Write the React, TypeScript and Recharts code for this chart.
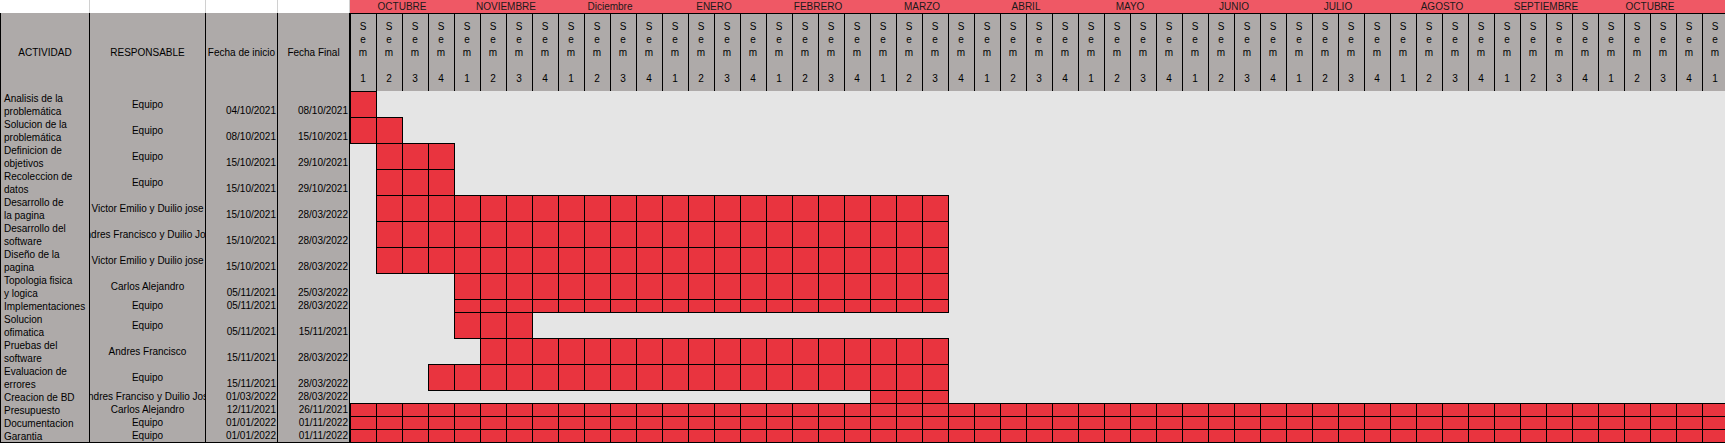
import React from 'react';
import { ComposedChart, XAxis, YAxis, ReferenceArea, Scatter } from 'recharts';

// month band over the week columns
const months = [
  'OCTUBRE', 'NOVIEMBRE', 'Diciembre', 'ENERO', 'FEBRERO', 'MARZO', 'ABRIL',
  'MAYO', 'JUNIO', 'JULIO', 'AGOSTO', 'SEPTIEMBRE', 'OCTUBRE',
];

// "Sem n" header of every week column
const weekNumbers = [
  1, 2, 3, 4, 1, 2, 3, 4, 1, 2, 3, 4, 1, 2, 3, 4, 1, 2, 3, 4, 1, 2, 3, 4,
  1, 2, 3, 4, 1, 2, 3, 4, 1, 2, 3, 4, 1, 2, 3, 4, 1, 2, 3, 4, 1, 2, 3, 4,
  1, 2, 3, 4, 1,
];

const tableHeaders = ['ACTIVIDAD', 'RESPONSABLE', 'Fecha de inicio', 'Fecha Final'];

const activities = [
  'Analisis de la\nproblemática',
  'Solucion de la\nproblemática',
  'Definicion de\nobjetivos',
  'Recoleccion de\ndatos',
  'Desarrollo de\nla pagina',
  'Desarrollo del\nsoftware',
  'Diseño de la\npagina',
  'Topologia fisica\ny logica',
  'Implementaciones',
  'Solucion\nofimatica',
  'Pruebas del\nsoftware',
  'Evaluacion de\nerrores',
  'Creacion de BD',
  'Presupuesto',
  'Documentacion',
  'Garantia',
];

const responsables = [
  'Equipo', 'Equipo', 'Equipo', 'Equipo',
  'Victor Emilio y Duilio jose',
  'Andres Francisco y Duilio Jose',
  'Victor Emilio y Duilio jose',
  'Carlos Alejandro',
  'Equipo', 'Equipo',
  'Andres Francisco',
  'Equipo',
  'Andres Franciso y Duilio Jose',
  'Carlos Alejandro',
  'Equipo', 'Equipo',
];

const fechaInicio = [
  '04/10/2021', '08/10/2021', '15/10/2021', '15/10/2021', '15/10/2021', '15/10/2021',
  '15/10/2021', '05/11/2021', '05/11/2021', '05/11/2021', '15/11/2021', '15/11/2021',
  '01/03/2022', '12/11/2021', '01/01/2022', '01/01/2022',
];

const fechaFinal = [
  '08/10/2021', '15/10/2021', '29/10/2021', '29/10/2021', '28/03/2022', '28/03/2022',
  '28/03/2022', '25/03/2022', '28/03/2022', '15/11/2021', '28/03/2022', '28/03/2022',
  '28/03/2022', '26/11/2021', '01/11/2022', '01/11/2022',
];

// first and last shaded week column (0 = Oct sem 1)
const startWeek = [0, 0, 1, 1, 1, 1, 1, 4, 4, 4, 5, 3, 20, 0, 0, 0];
const endWeek = [0, 1, 3, 3, 22, 22, 22, 22, 22, 6, 22, 22, 22, 52, 52, 52];

const RED = '#e9343f';
const PINK = '#ef5865';
const GRAY = '#aeaaa9';
const EMPTY = '#e5e5e5';
const FONT = '"Liberation Sans", Arial, sans-serif';

const LINE = 13;
const HEADER_LINES = 6;
const colWidths = [90, 116, 72, 72];
const LEFT_W = 350;
const WEEK_W = 26;
const CHART_W = 1725 - LEFT_W;
const CHART_H = 443;

const lineCounts = activities.map((a) => a.split('\n').length);
const rowStart = lineCounts.map((_, i) =>
  1 + HEADER_LINES + lineCounts.slice(0, i).reduce((s, v) => s + v, 0)
);
const totalRows = rowStart[rowStart.length - 1] + lineCounts[lineCounts.length - 1];

const weekHeaderData = weekNumbers.map((n, i) => ({ week: i + 0.5, row: 1 + HEADER_LINES / 2, n }));

const CellRect = (p: any) => (
  <rect
    x={p.x}
    y={p.y}
    width={p.width}
    height={p.height}
    fill={p.fill}
    stroke={p.stroke}
    strokeWidth={1}
    shapeRendering="crispEdges"
  />
);

const SemText = (p: any) => {
  const lines = ['S', 'e', 'm', '', String(p.payload.n)];
  return (
    <g>
      {lines.map((l, i) => (
        <text
          key={i}
          x={p.cx}
          y={p.cy + (i - 2) * LINE}
          textAnchor="middle"
          dominantBaseline="central"
          fontSize={10}
          fontFamily={FONT}
          fill="#000"
        >
          {l}
        </text>
      ))}
    </g>
  );
};

const cellStyle = (left: number, top: number, width: number, height: number): React.CSSProperties => ({
  position: 'absolute',
  left,
  top,
  width,
  height,
  boxSizing: 'border-box',
  borderRight: '1px solid #000',
  borderBottom: '1px solid #000',
  background: GRAY,
  overflow: 'hidden',
  fontFamily: FONT,
  fontSize: 10,
  lineHeight: `${LINE}px`,
  color: '#000',
  whiteSpace: 'nowrap',
});

const LeftTable = () => {
  const colLeft = colWidths.map((_, i) => colWidths.slice(0, i).reduce((s, v) => s + v, 0));
  const headH = HEADER_LINES * LINE;
  return (
    <>
      {colWidths.map((w, c) => (
        <div
          key={`top${c}`}
          style={{
            position: 'absolute', left: colLeft[c], top: 0, width: w, height: LINE + 1,
            boxSizing: 'border-box', background: '#fff',
            borderRight: '1px solid #d0d0d0', borderBottom: '1px solid #000',
          }}
        />
      ))}
      {tableHeaders.map((h, c) => (
        <div
          key={`h${c}`}
          style={{
            ...cellStyle(colLeft[c], LINE, colWidths[c], headH + 1),
            borderLeft: c === 0 ? '1px solid #000' : undefined,
            display: 'flex', alignItems: 'center', justifyContent: 'center',
          }}
        >
          <span>{h}</span>
        </div>
      ))}
      {activities.map((a, r) => {
        const top = rowStart[r] * LINE;
        const h = lineCounts[r] * LINE + 1;
        return (
          <React.Fragment key={`r${r}`}>
            <div style={{ ...cellStyle(0, top, colWidths[0], h), borderLeft: '1px solid #000', paddingLeft: 3, paddingTop: 1, whiteSpace: 'pre' }}>
              {a}
            </div>
            <div style={{ ...cellStyle(colLeft[1], top, colWidths[1], h), display: 'flex', alignItems: 'center', justifyContent: 'center' }}>
              <span>{responsables[r]}</span>
            </div>
            <div style={{ ...cellStyle(colLeft[2], top, colWidths[2], h), display: 'flex', alignItems: 'flex-end', justifyContent: 'flex-end', paddingRight: 1 }}>
              <span>{fechaInicio[r]}</span>
            </div>
            <div style={{ ...cellStyle(colLeft[3], top, colWidths[3], h), display: 'flex', alignItems: 'flex-end', justifyContent: 'flex-end', paddingRight: 1 }}>
              <span>{fechaFinal[r]}</span>
            </div>
          </React.Fragment>
        );
      })}
    </>
  );
};

const GanttGrid = () => {
  const xMax = CHART_W / WEEK_W;
  const yMax = CHART_H / LINE;
  return (
    <ComposedChart
      width={CHART_W}
      height={CHART_H}
      data={weekHeaderData}
      margin={{ top: 0, right: 0, bottom: 0, left: 0 }}
    >
      <XAxis type="number" dataKey="week" domain={[0, xMax]} allowDataOverflow hide />
      <YAxis type="number" dataKey="row" domain={[0, yMax]} allowDataOverflow reversed hide />

      {/* month band */}
      <ReferenceArea x1={0} x2={weekNumbers.length} y1={0} y2={1}
        fill={PINK} fillOpacity={1} stroke="none" ifOverflow="visible" />
      {months.map((m, i) => (
        <ReferenceArea key={`m${i}`} x1={i * 4} x2={i * 4 + 4} y1={0} y2={1}
          fillOpacity={0} stroke="none" ifOverflow="visible"
          label={{ value: m, position: 'center', fill: '#1a1a1a', fontSize: 10, fontFamily: FONT }} />
      ))}

      {/* week header cells */}
      {weekNumbers.map((_, i) => (
        <ReferenceArea key={`w${i}`} x1={i} x2={i + 1} y1={1} y2={1 + HEADER_LINES}
          fill={GRAY} fillOpacity={1} stroke="#000" ifOverflow="visible" shape={CellRect} />
      ))}

      {/* empty timeline background */}
      <ReferenceArea x1={0} x2={weekNumbers.length} y1={1 + HEADER_LINES} y2={totalRows}
        fill={EMPTY} fillOpacity={1} stroke="none" ifOverflow="visible" />

      {/* scheduled weeks */}
      {activities.map((_, r) =>
        weekNumbers.map((__, w) =>
          w >= startWeek[r] && w <= endWeek[r] ? (
            <ReferenceArea key={`c${r}-${w}`}
              x1={w} x2={w + 1} y1={rowStart[r]} y2={rowStart[r] + lineCounts[r]}
              fill={RED} fillOpacity={1} stroke="#000" ifOverflow="visible" shape={CellRect} />
          ) : null
        )
      )}

      <Scatter dataKey="row" shape={SemText} isAnimationActive={false} />
    </ComposedChart>
  );
};

export default function App() {
  return (
    <div style={{ position: 'fixed', left: 0, top: 0, width: 1725, height: 443, background: '#fff', overflow: 'hidden' }}>
      <LeftTable />
      <div style={{ position: 'absolute', left: LEFT_W, top: 0, width: CHART_W, height: CHART_H, overflow: 'hidden' }}>
        <GanttGrid />
      </div>
    </div>
  );
}
